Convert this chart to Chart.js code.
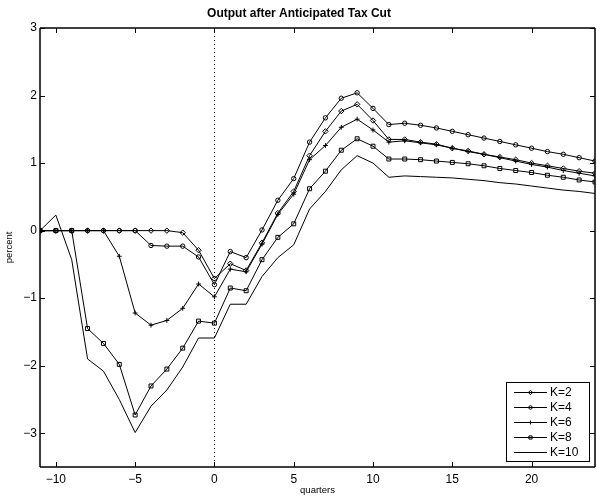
<!DOCTYPE html>
<html><head><meta charset="utf-8">
<script src="https://cdn.jsdelivr.net/npm/chart.js@4"></script>
<style>html,body{margin:0;padding:0;background:#fff;overflow:hidden;}#wrap{width:597px;height:497px;overflow:hidden;position:relative;}canvas{display:block;}</style>
</head><body><div id="wrap"><canvas id="c" width="600" height="497"></canvas></div>
<script>
const quarters = [-11,-10,-9,-8,-7,-6,-5,-4,-3,-2,-1,0,1,2,3,4,5,6,7,8,9,10,11,12,13,14,15,16,17,18,19,20,21,22,23,24];
const k2  = [0,0,0,0,0,0,0,0,0,-0.03,-0.29,-0.71,-0.49,-0.59,-0.18,0.26,0.58,1.11,1.47,1.77,1.87,1.63,1.35,1.35,1.31,1.28,1.22,1.18,1.13,1.09,1.05,1.00,0.96,0.92,0.88,0.85];
const k4  = [0,0,0,0,0,0,0,-0.22,-0.23,-0.23,-0.39,-0.80,-0.31,-0.40,0.01,0.45,0.77,1.31,1.67,1.96,2.04,1.81,1.57,1.59,1.56,1.52,1.47,1.42,1.37,1.32,1.27,1.22,1.17,1.13,1.08,1.03];
const k6  = [0,0,0,0,0,-0.38,-1.22,-1.40,-1.33,-1.15,-0.79,-0.98,-0.57,-0.61,-0.20,0.24,0.54,1.05,1.26,1.53,1.65,1.49,1.31,1.33,1.30,1.27,1.22,1.17,1.13,1.08,1.03,0.98,0.94,0.89,0.85,0.81];
const k8  = [0,0,0,-1.45,-1.67,-1.98,-2.73,-2.30,-2.05,-1.74,-1.34,-1.37,-0.85,-0.89,-0.43,-0.10,0.10,0.62,0.88,1.19,1.36,1.25,1.06,1.06,1.05,1.03,1.01,0.99,0.96,0.92,0.89,0.86,0.82,0.79,0.75,0.72];
const k10 = [0,0.23,-0.43,-1.90,-2.08,-2.50,-2.99,-2.60,-2.36,-2.02,-1.59,-1.59,-1.09,-1.09,-0.68,-0.40,-0.21,0.32,0.58,0.90,1.11,1.00,0.79,0.81,0.80,0.79,0.78,0.76,0.74,0.71,0.69,0.66,0.63,0.60,0.58,0.55];
const seriesLabels = ['K=2','K=4','K=6','K=8','K=10'];
const xTickValues = [-10,-5,0,5,10,15,20];
const yTickValues = [-3,-2,-1,0,1,2,3];
const titleText = 'Output after Anticipated Tax Cut';
const xTitle = 'quarters';
const yTitle = 'percent';

const FONT = "'Liberation Sans', Arial, Helvetica, sans-serif";
Chart.defaults.font.family = FONT;
Chart.defaults.color = '#000';

const seriesValues = [k2, k4, k6, k8, k10];
const markerStyles = [
  {pointStyle:'rectRot', pointRadius:2.7},
  {pointStyle:'circle', pointRadius:2.2},
  {pointStyle:'cross', pointRadius:2.4},
  {pointStyle:'rect', pointRadius:2.8},
  {pointStyle:false, pointRadius:0}
];

const datasets = seriesValues.map((vals, i) => ({
  label: seriesLabels[i],
  data: quarters.map((q, j) => ({x: q, y: vals[j]})),
  borderColor: '#000',
  borderWidth: 1,
  backgroundColor: 'rgba(0,0,0,0)',
  pointBackgroundColor: 'rgba(0,0,0,0)',
  pointBorderColor: '#000',
  pointBorderWidth: 1,
  pointStyle: markerStyles[i].pointStyle,
  pointRadius: markerStyles[i].pointRadius,
  tension: 0,
  fill: false
}));

const minus = v => String(v).replace('-', '\u2212');

const axesPlugin = {
  id: 'matlabAxes',
  beforeDatasetsDraw(chart) {
    const {ctx, chartArea: a, scales: {x, y}} = chart;
    ctx.save();
    ctx.strokeStyle = '#000';
    ctx.lineWidth = 1;
    ctx.setLineDash([1, 3]);
    const px = Math.round(x.getPixelForValue(0)) + 0.5;
    ctx.beginPath();
    ctx.moveTo(px, a.top);
    ctx.lineTo(px, a.bottom);
    ctx.stroke();
    ctx.restore();
  },
  afterDatasetsDraw(chart) {
    const {ctx, chartArea: a, scales: {x, y}} = chart;
    ctx.save();
    ctx.strokeStyle = '#000';
    ctx.lineWidth = 1.5;
    ctx.beginPath();
    ctx.moveTo(a.left, a.top); ctx.lineTo(a.right, a.top);
    ctx.moveTo(a.left, a.bottom); ctx.lineTo(a.right, a.bottom);
    ctx.moveTo(a.left, a.top); ctx.lineTo(a.left, a.bottom);
    ctx.moveTo(a.right, a.top); ctx.lineTo(a.right, a.bottom);
    ctx.stroke();
    ctx.lineWidth = 1;
    ctx.beginPath();
    const tl = 5;
    xTickValues.forEach(v => {
      const p = Math.round(x.getPixelForValue(v)) + 0.5;
      ctx.moveTo(p, a.bottom); ctx.lineTo(p, a.bottom - tl);
      ctx.moveTo(p, a.top); ctx.lineTo(p, a.top + tl);
    });
    yTickValues.forEach(v => {
      const p = Math.round(y.getPixelForValue(v)) + 0.5;
      ctx.moveTo(a.left, p); ctx.lineTo(a.left + tl, p);
      ctx.moveTo(a.right, p); ctx.lineTo(a.right - tl, p);
    });
    ctx.stroke();
    ctx.restore();
  },
  afterDraw(chart) {
    const {ctx, chartArea: a} = chart;
    const w = 83, h = 79;
    const right = a.right - 6, bottom = a.bottom - 6;
    const left = right - w, top = bottom - h;
    ctx.save();
    ctx.fillStyle = '#fff';
    ctx.fillRect(left, top, w, h);
    ctx.strokeStyle = '#000';
    ctx.lineWidth = 1;
    ctx.strokeRect(Math.round(left) + 0.5, Math.round(top) + 0.5, w, h);
    ctx.font = '12px ' + FONT;
    ctx.textBaseline = 'middle';
    ctx.textAlign = 'left';
    ctx.fillStyle = '#000';
    chart.data.datasets.forEach((ds, i) => {
      const yy = top + 10.5 + i * 15;
      const x1 = left + 8, x2 = left + 41;
      ctx.beginPath();
      ctx.moveTo(x1, yy); ctx.lineTo(x2, yy);
      ctx.lineWidth = 1;
      ctx.strokeStyle = '#000';
      ctx.stroke();
      if (ds.pointStyle && Chart.helpers && Chart.helpers.drawPoint) {
        ctx.lineWidth = 1;
        ctx.fillStyle = 'rgba(0,0,0,0)';
        Chart.helpers.drawPoint(ctx, {pointStyle: ds.pointStyle, radius: ds.pointRadius * 0.8, rotation: 0, borderWidth: 1}, (x1 + x2) / 2, yy);
      }
      ctx.fillStyle = '#000';
      ctx.fillText(ds.label, x2 + 3, yy + 0.5);
    });
    ctx.restore();
  }
};

new Chart(document.getElementById('c'), {
  type: 'line',
  data: {datasets},
  options: {
    responsive: false,
    animation: false,
    devicePixelRatio: 1,
    layout: {padding: {left: 0, right: 2, top: 0, bottom: 0}},
    plugins: {
      legend: {display: false},
      tooltip: {enabled: false},
      title: {
        display: true,
        text: titleText,
        color: '#000',
        font: {size: 12, weight: 'bold', family: FONT},
        padding: {top: 6.6, bottom: 7}
      }
    },
    elements: {line: {tension: 0}},
    scales: {
      x: {
        type: 'linear',
        min: -11, max: 24,
        grid: {display: false, drawTicks: false},
        border: {display: false},
        afterBuildTicks: s => { s.ticks = xTickValues.map(v => ({value: v})); },
        afterFit: s => { s.height = 30; },
        ticks: {color: '#000', font: {size: 12}, padding: 5, maxRotation: 0, autoSkip: false, callback: minus},
        title: {display: true, text: xTitle, color: '#000', font: {size: 9.5}, padding: {top: 0, bottom: 1.3}}
      },
      y: {
        type: 'linear',
        min: -3.5, max: 3,
        grid: {display: false, drawTicks: false},
        border: {display: false},
        afterBuildTicks: s => { s.ticks = yTickValues.map(v => ({value: v})); },
        afterFit: s => { s.width = 40; },
        ticks: {color: '#000', font: {size: 12}, padding: 3, autoSkip: false, callback: minus},
        title: {display: true, text: yTitle, color: '#000', font: {size: 9.5}, padding: {top: 4, bottom: 0}}
      }
    }
  },
  plugins: [axesPlugin]
});
</script>
</body></html>
